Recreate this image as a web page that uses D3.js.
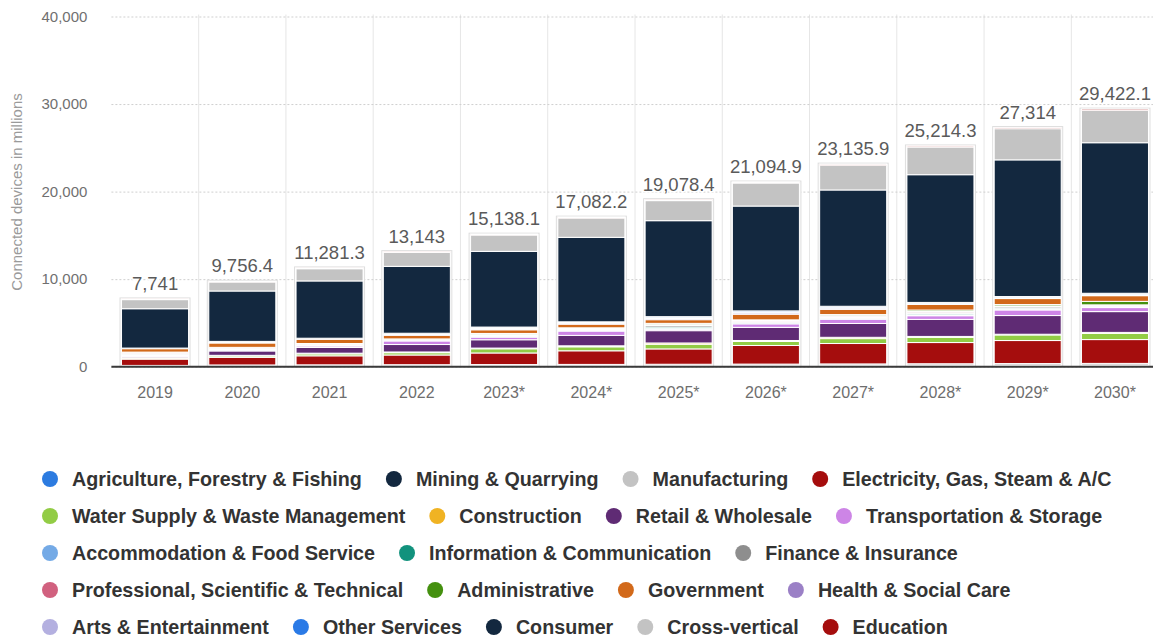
<!DOCTYPE html>
<html>
<head>
<meta charset="utf-8">
<script src="https://cdn.jsdelivr.net/npm/d3@7"></script>
<style>
  body { margin: 0; background: #ffffff; }
  svg { display: block; }
  text { font-family: "Liberation Sans", Arial, Helvetica, sans-serif; }
</style>
</head>
<body>
<svg id="chart" width="1153" height="639"></svg>
<script>
// Connected IoT devices by vertical, in millions
const years = ["2019", "2020", "2021", "2022", "2023*", "2024*", "2025*", "2026*", "2027*", "2028*", "2029*", "2030*"];

const seriesNames = [
  "Agriculture, Forestry & Fishing", "Mining & Quarrying", "Manufacturing", "Electricity, Gas, Steam & A/C",
  "Water Supply & Waste Management", "Construction", "Retail & Wholesale", "Transportation & Storage",
  "Accommodation & Food Service", "Information & Communication", "Finance & Insurance",
  "Professional, Scientific & Technical", "Administrative", "Government", "Health & Social Care",
  "Arts & Entertainment", "Other Services", "Consumer", "Cross-vertical", "Education"
];

const seriesColors = [
  "#2c7be0", "#13283f", "#c3c3c3", "#a50d0d",
  "#92cc45", "#f0b323", "#5f2b74", "#cd85e6",
  "#74aae6", "#12927d", "#8e8e8e",
  "#d1617f", "#44900f", "#d2691a", "#9b80c6",
  "#b4b0e0", "#2a7ae6", "#13283f", "#c3c3c3", "#a50d0d"
];

const agriculture    = [40, 58, 64, 70, 76, 84, 92, 99, 107, 116, 124, 131];
const mining         = [18, 24, 26, 28, 31, 34, 37, 40, 43, 46, 50, 54];
const manufacturing  = [90, 118, 124, 130, 136, 144, 152, 160, 168, 176, 184, 193];
const electricity    = [720, 870, 1030, 1110, 1325, 1555, 1750, 2125, 2330, 2420, 2630, 2720];
const waterSupply    = [110, 160, 220, 260, 480, 455, 530, 455, 560, 590, 640, 700];
const construction   = [55, 70, 80, 85, 80, 115, 150, 115, 150, 110, 80, 120];
const retail         = [140, 500, 650, 850, 950, 1190, 1405, 1500, 1580, 1945, 2135, 2375];
const transportation = [110, 100, 170, 410, 300, 490, 150, 400, 480, 420, 640, 460];
const accommodation  = [70, 60, 55, 45, 75, 65, 120, 80, 95, 110, 100, 75];
const information    = [85, 75, 70, 55, 95, 80, 150, 95, 110, 135, 130, 95];
const finance        = [100, 85, 80, 60, 110, 95, 170, 115, 130, 155, 150, 110];
const professional   = [60, 45, 40, 30, 55, 50, 100, 60, 70, 85, 80, 30];
const administrative = [70, 45, 40, 40, 85, 85, 145, 105, 130, 165, 155, 400];
const government     = [390, 500, 490, 420, 420, 420, 420, 650, 605, 640, 685, 650];
const health         = [25, 65, 40, 90, 120, 100, 130, 145, 135, 90, 90, 105];
const arts           = [20, 50, 35, 60, 80, 70, 90, 95, 90, 60, 60, 70];
const otherServices  = [25, 65, 40, 80, 110, 95, 125, 135, 120, 80, 80, 100];
const consumer       = [4493, 5756.4, 6542.3, 7640, 8645.1, 9650.2, 10962.4, 11975.9, 13282.9, 14586.3, 15611, 17194.1];
const crossVertical  = [1040, 1025, 1395, 1585, 1865, 2200, 2290, 2630, 2830, 3160, 3560, 3700];
const education      = [80, 85, 90, 95, 100, 105, 110, 115, 120, 125, 130, 140];

const yTicks = [0, 10000, 20000, 30000, 40000];
const yTitle = "Connected devices in millions";

const seriesValues = [
  agriculture, mining, manufacturing, electricity, waterSupply, construction, retail, transportation,
  accommodation, information, finance, professional, administrative, government, health, arts,
  otherServices, consumer, crossVertical, education
];

// one row per year, keyed by series name
const rows = years.map((yr, i) => {
  const r = { year: yr };
  seriesNames.forEach((name, k) => { r[name] = seriesValues[k][i]; });
  return r;
});
const colorOf = d3.scaleOrdinal().domain(seriesNames).range(seriesColors);

const svg = d3.select("#chart");

const x = d3.scaleBand()
  .domain(years)
  .range([111.4, 1158.6])
  .paddingInner(0.232)
  .paddingOuter(0.116);
const y = d3.scaleLinear().domain([0, 40000]).range([366.7, 16.5]);

const plotLeft = 111.4, plotRight = 1158.6;

// vertical separators between categories
const step = x.step();
svg.append("g")
  .selectAll("line")
  .data(d3.range(1, years.length))
  .join("line")
  .attr("x1", k => plotLeft + k * step)
  .attr("x2", k => plotLeft + k * step)
  .attr("y1", y(40000) - 2)
  .attr("y2", y(0))
  .attr("stroke", "#e6e6e6")
  .attr("stroke-width", 1);

// horizontal dotted grid and value axis labels
const yAxis = d3.axisLeft(y)
  .tickValues(yTicks)
  .tickSize(-(plotRight - plotLeft))
  .tickPadding(24)
  .tickFormat(d3.format(","));
const gy = svg.append("g").attr("transform", `translate(${plotLeft},0)`).call(yAxis);
gy.select(".domain").remove();
gy.selectAll(".tick line")
  .attr("stroke", "#cfcfcf")
  .attr("stroke-dasharray", "2,2");
gy.selectAll(".tick text")
  .attr("fill", "#707070")
  .attr("font-size", 15)
  .style("font-family", "'Liberation Sans', Arial, sans-serif");

svg.append("text")
  .attr("transform", "translate(22,192) rotate(-90)")
  .attr("text-anchor", "middle")
  .attr("font-size", 15)
  .attr("fill", "#9a9a9a")
  .text(yTitle);

// stacked bars
const stacked = d3.stack().keys(seriesNames)(rows);
const totals = rows.map(r => d3.sum(seriesNames, n => r[n]));

// faint frame around each stack
svg.append("g")
  .selectAll("rect")
  .data(rows)
  .join("rect")
  .attr("x", (d) => x(d.year) - 1.5)
  .attr("y", (d, i) => y(totals[i]) - 1)
  .attr("width", x.bandwidth() + 3)
  .attr("height", (d, i) => y(0) - y(totals[i]) + 1)
  .attr("fill", "#ffffff")
  .attr("stroke", "#dedede")
  .attr("stroke-width", 1);

svg.append("g")
  .selectAll("g")
  .data(stacked)
  .join("g")
  .attr("fill", s => colorOf(s.key))
  .selectAll("rect")
  .data(s => s)
  .join("rect")
  .attr("x", d => x(d.data.year))
  .attr("y", d => y(d[1]))
  .attr("width", x.bandwidth())
  .attr("height", d => Math.max(0, y(d[0]) - y(d[1])))
  .attr("stroke", "#ffffff")
  .attr("stroke-width", 1);

// category axis
const xAxis = d3.axisBottom(x).tickSize(0).tickPadding(20);
const gx = svg.append("g").attr("transform", `translate(0,${y(0)})`).call(xAxis);
gx.select(".domain").remove();
gx.selectAll(".tick text")
  .attr("fill", "#6e6e6e")
  .attr("font-size", 16)
  .style("font-family", "'Liberation Sans', Arial, sans-serif");
svg.append("line")
  .attr("x1", plotLeft).attr("x2", plotRight)
  .attr("y1", y(0)).attr("y2", y(0))
  .attr("stroke", "#3a3a3a")
  .attr("stroke-width", 2);

// total labels
const fmt = d3.format(",");
svg.append("g")
  .selectAll("text")
  .data(rows)
  .join("text")
  .attr("x", d => x(d.year) + x.bandwidth() / 2)
  .attr("y", (d, i) => y(totals[i]) - 9)
  .attr("text-anchor", "middle")
  .attr("font-size", 18.5)
  .attr("fill", "#5a5a5a")
  .attr("stroke", "#ffffff")
  .attr("stroke-width", 3)
  .attr("stroke-linejoin", "round")
  .attr("paint-order", "stroke")
  .text((d, i) => fmt(Math.round(totals[i] * 10) / 10));

// legend, flowing left to right in rows
const legend = svg.append("g");
const legendLeft = 42, legendMaxRight = 1135, rowTop = 479, rowGap = 37;
let cx = legendLeft, row = 0;
seriesNames.forEach((name, k) => {
  const item = legend.append("g");
  const label = item.append("text")
    .attr("x", 30)
    .attr("y", 0)
    .attr("dy", "0.35em")
    .attr("font-size", 19.7)
    .attr("font-weight", "bold")
    .attr("fill", "#333333")
    .text(name);
  const w = label.node().getComputedTextLength();
  if (cx + 30 + w > legendMaxRight) { row += 1; cx = legendLeft; }
  item.append("circle")
    .attr("cx", 8)
    .attr("cy", 0)
    .attr("r", 8)
    .attr("fill", seriesColors[k]);
  item.attr("transform", `translate(${cx},${rowTop + row * rowGap})`);
  cx += 30 + w + 24;
});
</script>
</body>
</html>
